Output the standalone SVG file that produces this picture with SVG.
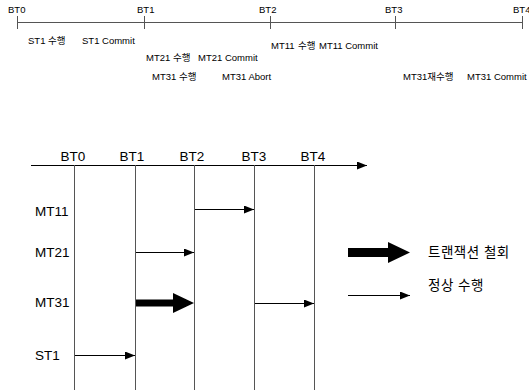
<svg xmlns="http://www.w3.org/2000/svg" width="529" height="392" viewBox="0 0 529 392">
<style>
text{font-family:"Liberation Sans","Noto Sans CJK KR",sans-serif;fill:#000}
.s{font-size:9.5px}
.m{font-size:13.5px}
.ln{stroke:#000;stroke-width:1;fill:none}
.gl{stroke:#555;stroke-width:1;fill:none}
</style>
<defs>
<marker id="ah" viewBox="0 0 10 8" refX="10" refY="4" markerWidth="10" markerHeight="8" markerUnits="userSpaceOnUse" orient="auto">
<path d="M0,0 L10,4 L0,8 Z" fill="#000"/>
</marker>
</defs>
<g id="timeline">
<line class="gl" x1="17" y1="22.5" x2="522" y2="22.5"/>
<line class="gl" x1="17.5" y1="16" x2="17.5" y2="29"/>
<line class="gl" x1="144.5" y1="16" x2="144.5" y2="29"/>
<line class="gl" x1="270.5" y1="16" x2="270.5" y2="29"/>
<line class="gl" x1="395.5" y1="16" x2="395.5" y2="29"/>
<line class="gl" x1="522.5" y1="16" x2="522.5" y2="29"/>
<text class="s" x="8" y="13">BT0</text>
<text class="s" x="137" y="13">BT1</text>
<text class="s" x="259" y="13">BT2</text>
<text class="s" x="385" y="13">BT3</text>
<text class="s" x="513" y="13">BT4</text>
<text class="s" x="28" y="44">ST1 수행</text>
<text class="s" x="82" y="44">ST1 Commit</text>
<text class="s" x="271" y="49">MT11</text>
<text class="s" x="298" y="49">수행</text>
<text class="s" x="319" y="49">MT11 Commit</text>
<text class="s" x="146" y="61">MT21 수행</text>
<text class="s" x="198" y="61">MT21 Commit</text>
<text class="s" x="152" y="80">MT31 수행</text>
<text class="s" x="222" y="80">MT31 Abort</text>
<text class="s" x="403" y="80">MT31재수행</text>
<text class="s" x="467" y="80">MT31 Commit</text>
</g>
<g id="axis">
<line class="ln" x1="31" y1="165.5" x2="367" y2="165.5" marker-end="url(#ah)"/>
<text class="m" x="73" y="161" text-anchor="middle">BT0</text>
<text class="m" x="132" y="161" text-anchor="middle">BT1</text>
<text class="m" x="192" y="161" text-anchor="middle">BT2</text>
<text class="m" x="254" y="161" text-anchor="middle">BT3</text>
<text class="m" x="313" y="161" text-anchor="middle">BT4</text>
</g>
<g id="lifelines">
<line class="gl" x1="74.5" y1="165" x2="74.5" y2="390"/>
<line class="gl" x1="135.5" y1="165" x2="135.5" y2="390"/>
<line class="gl" x1="194.5" y1="165" x2="194.5" y2="390"/>
<line class="gl" x1="254.5" y1="165" x2="254.5" y2="390"/>
<line class="gl" x1="314.5" y1="165" x2="314.5" y2="390"/>
</g>
<g id="row-MT11"><text class="m" x="35" y="216">MT11</text></g>
<g id="row-MT21"><text class="m" x="35" y="257">MT21</text></g>
<g id="row-MT31"><text class="m" x="35" y="307">MT31</text></g>
<g id="row-ST1"><text class="m" x="35" y="360">ST1</text></g>
<g id="connectors">
<line class="ln" x1="195" y1="209.5" x2="254" y2="209.5" marker-end="url(#ah)"/>
<line class="ln" x1="136" y1="252.5" x2="194" y2="252.5" marker-end="url(#ah)"/>
<path d="M136,299.5 L173,299.5 L173,293 L194,303 L173,313 L173,306.5 L136,306.5 Z" fill="#000"/>
<line class="ln" x1="255" y1="303.5" x2="314" y2="303.5" marker-end="url(#ah)"/>
<line class="ln" x1="75" y1="355.5" x2="135" y2="355.5" marker-end="url(#ah)"/>
</g>
<g id="legend">
<path d="M348,248 L388,248 L388,242 L410,252.5 L388,263 L388,257 L348,257 Z" fill="#000"/>
<text class="m" x="428" y="257" letter-spacing="0.5">트랜잭션 철회</text>
<line class="ln" x1="348" y1="295.5" x2="410" y2="295.5" marker-end="url(#ah)"/>
<text class="m" x="428" y="290" letter-spacing="0.5">정상 수행</text>
</g>
</svg>
